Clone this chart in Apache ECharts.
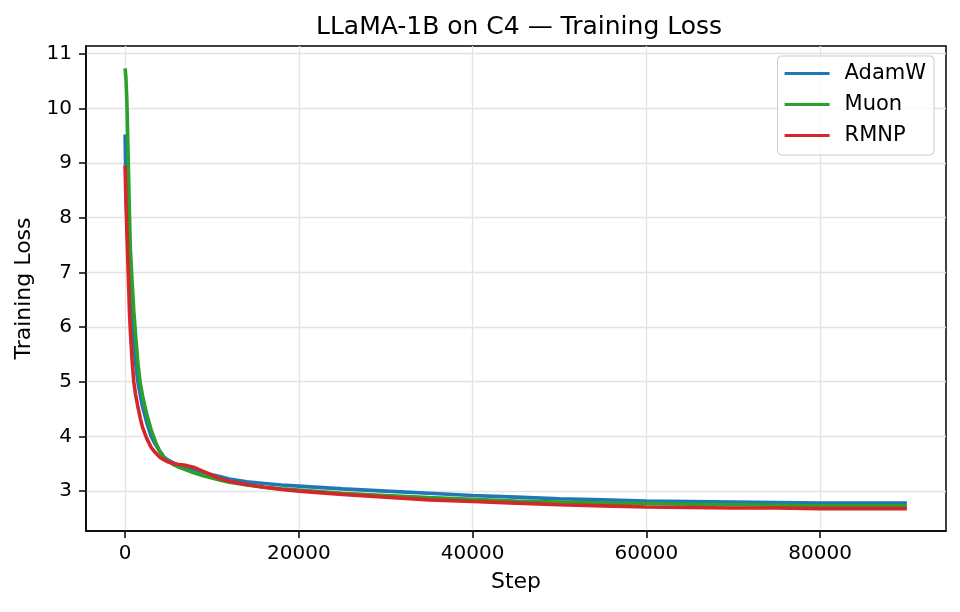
<!DOCTYPE html>
<html>
<head>
<meta charset="utf-8">
<title>LLaMA-1B on C4 — Training Loss</title>
<script src="https://cdn.jsdelivr.net/npm/echarts@6/dist/echarts.min.js"></script>
<style>
  html, body { margin: 0; padding: 0; background: #fff; }
  #chart { width: 960px; height: 612px; }
</style>
</head>
<body>
<div id="chart"></div>
<script>
// training steps (shared by all three runs)
const steps = [0, 100, 200, 300, 400, 500, 600, 800, 1000, 1200, 1500, 1750, 2000, 2500, 3000, 3500, 4000, 4500, 5000, 5500, 6000, 7000, 8000, 9000, 10000, 11000, 12000, 14000, 16000, 18000, 20000, 25000, 30000, 35000, 40000, 45000, 50000, 55000, 60000, 65000, 70000, 75000, 80000, 85000, 90000];

// loss per optimizer
const adamw = [9.52, 8.5, 8.0, 7.6, 7.3, 6.95, 6.65, 6.08, 5.7, 5.35, 4.97, 4.75, 4.55, 4.25, 4.0, 3.85, 3.73, 3.62, 3.56, 3.52, 3.48, 3.44, 3.39, 3.34, 3.3, 3.26, 3.22, 3.17, 3.14, 3.11, 3.09, 3.04, 3.0, 2.96, 2.92, 2.89, 2.86, 2.84, 2.82, 2.81, 2.8, 2.79, 2.78, 2.78, 2.78];
const muon = [10.73, 10.55, 10.15, 9.5, 8.8, 8.07, 7.45, 6.85, 6.3, 5.87, 5.3, 4.97, 4.75, 4.4, 4.12, 3.9, 3.72, 3.61, 3.54, 3.49, 3.45, 3.39, 3.33, 3.28, 3.24, 3.2, 3.16, 3.11, 3.07, 3.04, 3.02, 2.96, 2.92, 2.88, 2.85, 2.82, 2.8, 2.78, 2.77, 2.76, 2.75, 2.74, 2.73, 2.73, 2.73];
const rmnp = [8.95, 8.3, 7.8, 7.3, 6.8, 6.3, 5.95, 5.4, 5.0, 4.77, 4.52, 4.33, 4.17, 3.96, 3.8, 3.7, 3.62, 3.57, 3.53, 3.51, 3.49, 3.47, 3.43, 3.36, 3.29, 3.22, 3.18, 3.12, 3.07, 3.03, 3.0, 2.94, 2.89, 2.84, 2.81, 2.78, 2.75, 2.73, 2.71, 2.7, 2.69, 2.69, 2.68, 2.68, 2.68];

const xTicks = [0, 20000, 40000, 60000, 80000];
const yTicks = [3, 4, 5, 6, 7, 8, 9, 10, 11];

const seriesNames = ['AdamW', 'Muon', 'RMNP'];
const seriesColors = ['#1f77b4', '#2ca02c', '#d62728'];
const seriesValues = [adamw, muon, rmnp];

const FONT = 'DejaVu Sans';

const chart = echarts.init(document.getElementById('chart'), null, { renderer: 'canvas' });

const series = seriesNames.map((name, i) => ({
  name: name,
  type: 'line',
  data: steps.map((s, j) => [s, seriesValues[i][j]]),
  showSymbol: false,
  smooth: false,
  lineStyle: { width: 3.6, color: seriesColors[i] },
  itemStyle: { color: seriesColors[i] },
  emphasis: { disabled: true }
}));

const option = {
  backgroundColor: '#ffffff',
  animation: false,
  textStyle: { fontFamily: FONT },
  title: {
    text: 'LLaMA-1B on C4 — Training Loss',
    left: 514,
    top: 10,
    textAlign: 'center',
    textStyle: { fontFamily: FONT, fontSize: 25, fontWeight: 'normal', color: '#000' }
  },
  legend: {
    data: seriesNames,
    orient: 'vertical',
    right: 26,
    top: 56,
    itemWidth: 45,
    itemHeight: 3,
    itemGap: 10,
    icon: 'rect',
    padding: [7, 8, 9, 7],
    borderColor: '#cccccc',
    borderWidth: 1,
    borderRadius: 4,
    backgroundColor: 'rgba(255,255,255,0.8)',
    textStyle: { fontFamily: FONT, fontSize: 21, color: '#000', lineHeight: 21, padding: [0, 0, 0, 10] }
  },
  grid: {
    left: 86,
    right: 14,
    top: 46,
    bottom: 81,
    show: true,
    borderColor: '#000',
    borderWidth: 1.5,
    backgroundColor: 'transparent'
  },
  xAxis: {
    type: 'value',
    min: -4500,
    max: 94500,
    name: 'Step',
    nameLocation: 'middle',
    nameGap: 40,
    nameTextStyle: { fontFamily: FONT, fontSize: 22, color: '#000' },
    axisLine: { show: true, onZero: false, lineStyle: { color: '#000', width: 1.5 } },
    axisTick: { show: true, length: 7, lineStyle: { color: '#000', width: 1.5 }, customValues: xTicks },
    axisLabel: { fontFamily: FONT, fontSize: 20, color: '#000', margin: 13, customValues: xTicks, formatter: v => String(v) },
    splitLine: { show: true, lineStyle: { color: '#e3e3e3', width: 1.3 } }
  },
  yAxis: {
    type: 'value',
    min: 2.27,
    max: 11.14,
    name: 'Training Loss',
    nameLocation: 'middle',
    nameGap: 48,
    nameRotate: 90,
    nameTextStyle: { fontFamily: FONT, fontSize: 22, color: '#000' },
    axisLine: { show: true, onZero: false, lineStyle: { color: '#000', width: 1.5 } },
    axisTick: { show: true, length: 7, lineStyle: { color: '#000', width: 1.5 }, customValues: yTicks },
    axisLabel: { fontFamily: FONT, fontSize: 20, color: '#000', margin: 14, customValues: yTicks, formatter: v => String(v) },
    splitLine: { show: true, lineStyle: { color: '#e3e3e3', width: 1.3 } }
  },
  series: series
};

chart.setOption(option);
</script>
</body>
</html>
